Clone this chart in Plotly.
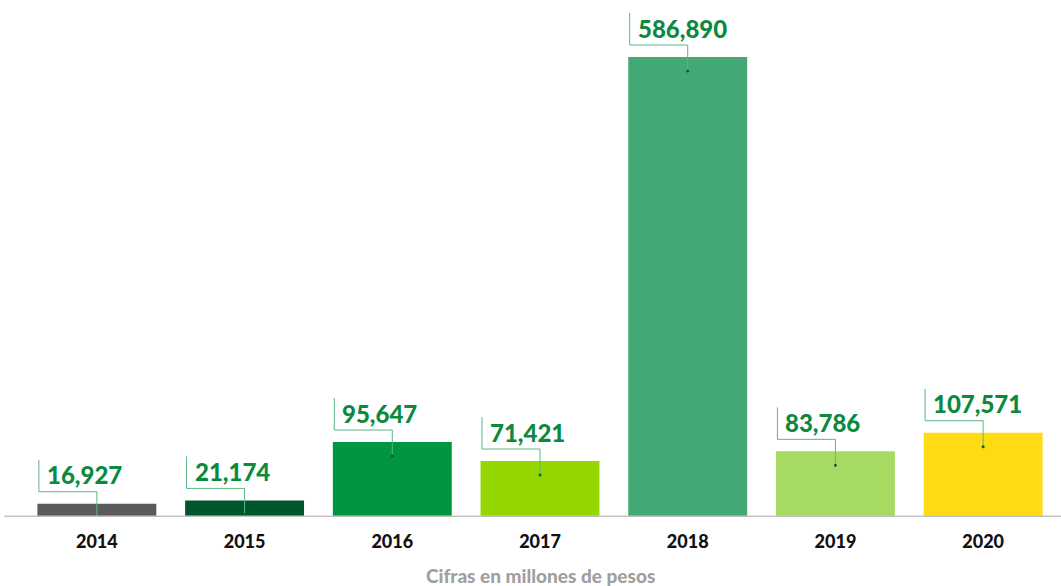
"""Bar chart: yearly amounts with callout labels"""
import plotly.graph_objects as go

years = ["2014", "2015", "2016", "2017", "2018", "2019", "2020"]
amounts = [16927, 21174, 95647, 71421, 586890, 83786, 107571]
bar_colors = ["#5a5a5a", "#00562c", "#009640", "#95d600", "#43a873", "#a6da63", "#fedb12"]
label_text = ["16,927", "21,174", "95,647", "71,421", "586,890", "83,786", "107,571"]

LINE_GREEN = "#5bb783"
LABEL_GREEN = "#0b8a3e"
FONT = "Lato"

fig = go.Figure()
fig.add_trace(
    go.Bar(
        x=years,
        y=amounts,
        marker={"color": bar_colors, "line": {"width": 0}},
        hoverinfo="skip",
    )
)

# Callouts: drawn in pixels, anchored at the top centre of each bar
for i, (value, text) in enumerate(zip(amounts, label_text)):
    fig.add_shape(
        type="path",
        xref="x", yref="y",
        xsizemode="pixel", ysizemode="pixel",
        xanchor=i, yanchor=value,
        path="M 0 -14 L 0 12 L -58 12 L -58 44",
        line={"color": LINE_GREEN, "width": 1},
    )
    fig.add_shape(
        type="circle",
        xref="x", yref="y",
        xsizemode="pixel", ysizemode="pixel",
        xanchor=i, yanchor=value,
        x0=-1.5, x1=1.5, y0=-15.5, y1=-12.5,
        line={"color": "#0b5a2c", "width": 0},
        fillcolor="#0b5a2c",
    )
    fig.add_annotation(
        x=i, y=value, xref="x", yref="y",
        text=text,
        showarrow=False,
        xanchor="left", yanchor="middle",
        xshift=-52, yshift=29,
        font={"family": FONT, "size": 24, "color": LABEL_GREEN, "weight": 900},
    )

# Baseline
fig.add_shape(
    type="line", xref="paper", yref="y",
    x0=-0.018, x1=1.004, y0=0, y1=0,
    line={"color": "#c3c3c3", "width": 3},
)

fig.add_annotation(
    x=0.5, y=0, xref="paper", yref="paper",
    text="Cifras en millones de pesos",
    showarrow=False, yanchor="middle", yshift=-58,
    font={"family": FONT, "size": 19, "color": "#a0a0a0", "weight": 900},
)

fig.update_layout(
    width=1061,
    height=586,
    margin={"l": 23, "r": 4, "t": 8, "b": 69},
    paper_bgcolor="white",
    plot_bgcolor="white",
    bargap=0.195,
    showlegend=False,
)
fig.update_xaxes(
    type="category",
    range=[-0.5, 6.5],
    automargin=False,
    showgrid=False,
    showline=False,
    zeroline=False,
    ticks="",
    ticklabelstandoff=12,
    tickfont={"family": FONT, "size": 18, "color": "#111111", "weight": 900},
)
fig.update_yaxes(
    range=[0, 649400],
    visible=False,
    automargin=False,
    showgrid=False,
    zeroline=False,
)

# the page body has a default margin; drop it so the figure fills the window
fig.write_html(
    "out.html",
    config={"displayModeBar": False},
    post_script="document.body.style.margin = '0';",
)
